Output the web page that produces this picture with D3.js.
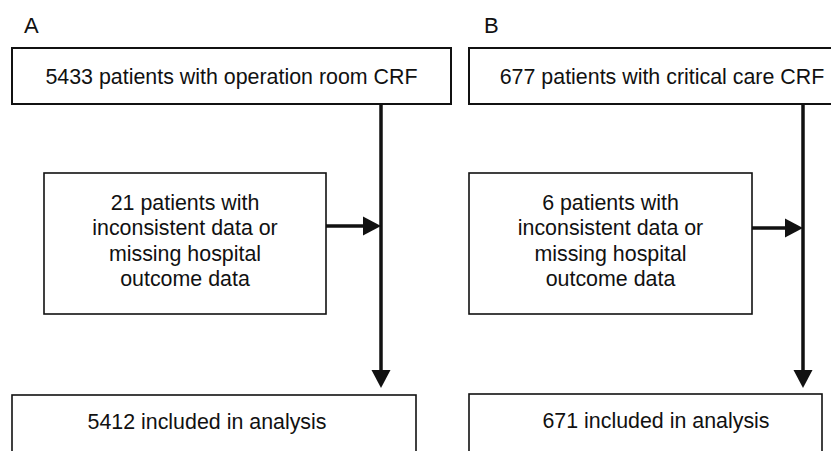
<!DOCTYPE html>
<html>
<head>
<meta charset="utf-8">
<script src="https://cdn.jsdelivr.net/npm/d3@7"></script>
<style>
    body { margin: 0; background: #fff; }
    svg text { font-family: "Liberation Sans", Arial, Helvetica, sans-serif; fill: #111; }
</style>
</head>
<body>
<svg id="canvas" width="831" height="451"></svg>
<script>
        // flow counts for the two panels
        const panels = ["A", "B"];
        const sourceCounts = [5433, 677];
        const sourceNames = ["operation room CRF", "critical care CRF"];
        const excludedCounts = [21, 6];
        const includedCounts = [5412, 671];

        // box geometry per panel (pixels)
        const layout = [
            { label: [24, 33], top: [12, 48, 439, 56], mid: [44, 173, 282, 141], bot: [12, 395, 404, 80], trunk: 381, botText: 207 },
            { label: [484, 33], top: [469, 48, 386, 56], mid: [469, 173, 283, 141], bot: [469, 394, 353, 80], trunk: 803, botText: 656 }
        ];

        const svg = d3.select("#canvas");

        function box(g, r, sw) {
            g.append("rect")
                .attr("x", r[0]).attr("y", r[1])
                .attr("width", r[2]).attr("height", r[3])
                .attr("fill", "#fff").attr("stroke", "#111")
                .attr("stroke-width", sw);
        }

        function arrowHead(g, x, y, dir) {
            // dir "down" or "right"; (x, y) is the tip
            const len = 18, half = 9.5;
            let pts;
            if (dir === "down") pts = [[x, y], [x - half, y - len], [x + half, y - len]];
            else pts = [[x, y], [x - len, y - half], [x - len, y + half]];
            g.append("path").attr("d", d3.line()(pts) + "Z").attr("fill", "#111");
        }

        panels.forEach((p, i) => {
            const L = layout[i];
            const g = svg.append("g");

            g.append("text")
                .attr("x", L.label[0]).attr("y", L.label[1])
                .attr("font-size", 22)
                .text(p);

            // source box
            box(g, L.top, 2);
            g.append("text")
                .attr("x", L.top[0] + L.top[2] / 2)
                .attr("y", L.top[1] + L.top[3] / 2 + 7.5)
                .attr("text-anchor", "middle")
                .attr("font-size", 21.4)
                .text(`${sourceCounts[i]} patients with ${sourceNames[i]}`);

            // trunk line
            const tipY = 388;
            g.append("line")
                .attr("x1", L.trunk).attr("y1", L.top[1] + L.top[3])
                .attr("x2", L.trunk).attr("y2", tipY - 10)
                .attr("stroke", "#111").attr("stroke-width", 3.5);
            arrowHead(g, L.trunk, tipY, "down");

            // excluded box
            box(g, L.mid, 1.6);
            const lines = [`${excludedCounts[i]} patients with`, "inconsistent data or", "missing hospital", "outcome data"];
            const cx = L.mid[0] + L.mid[2] / 2;
            g.append("text")
                .attr("text-anchor", "middle")
                .attr("font-size", 21.4)
                .selectAll("tspan")
                .data(lines)
                .enter()
                .append("tspan")
                .attr("x", cx)
                .attr("y", (d, k) => 210 + k * 25.3)
                .text(d => d);

            // side arrow into trunk
            const ay = i === 0 ? 226 : 228;
            g.append("line")
                .attr("x1", L.mid[0] + L.mid[2]).attr("y1", ay)
                .attr("x2", L.trunk - 10).attr("y2", ay)
                .attr("stroke", "#111").attr("stroke-width", 3.5);
            arrowHead(g, L.trunk, ay, "right");

            // included box
            box(g, L.bot, 1.6);
            g.append("text")
                .attr("x", L.botText)
                .attr("y", L.bot[1] + 34)
                .attr("text-anchor", "middle")
                .attr("font-size", 21.4)
                .text(`${includedCounts[i]} included in analysis`);
        });
</script>
</body>
</html>
